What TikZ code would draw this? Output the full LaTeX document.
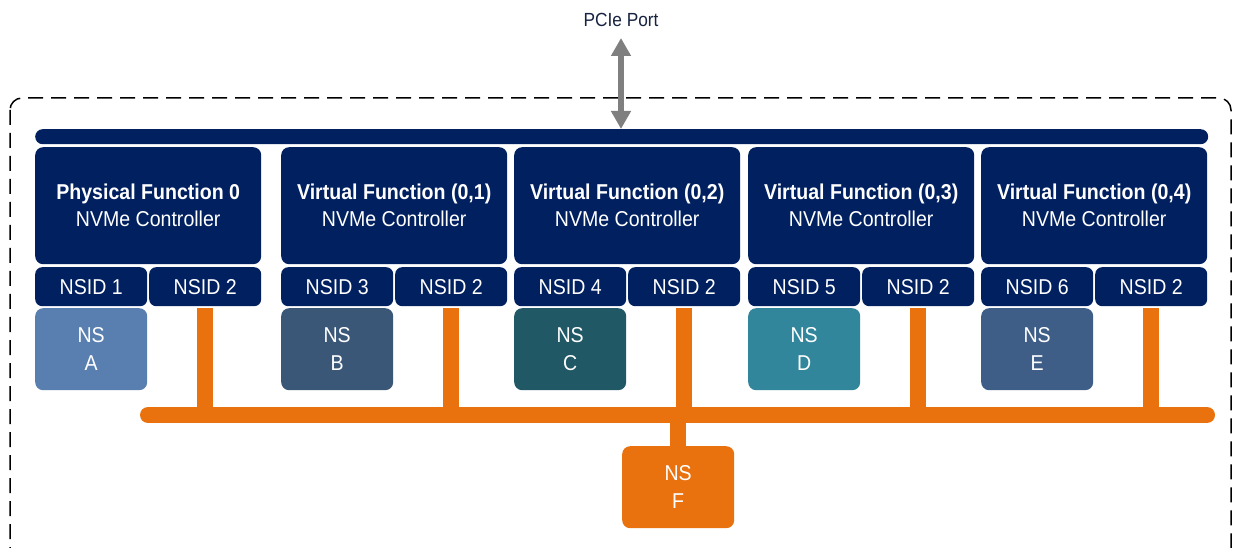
\documentclass[tikz,border=0pt]{standalone}
\usepackage{fontspec}
\setmainfont{Liberation Sans}[FakeStretch=0.91]
\usetikzlibrary{arrows.meta}
\definecolor{navy}{RGB}{0,32,96}
\definecolor{nsorange}{RGB}{233,113,14}
\definecolor{arrowgray}{RGB}{127,127,127}
\definecolor{labelcol}{RGB}{23,35,64}
\definecolor{nsA}{RGB}{88,127,176}
\definecolor{nsB}{RGB}{58,87,120}
\definecolor{nsC}{RGB}{32,88,102}
\definecolor{nsD}{RGB}{49,134,155}
\definecolor{nsE}{RGB}{62,94,136}
\begin{document}
\begin{tikzpicture}[x=1pt,y=-1pt,
  box/.style={fill=navy, rounded corners=8pt, inner sep=0pt, text=white, align=center, anchor=north west},
  ctrl/.style={box, minimum width=226pt, minimum height=117pt, font=\fontsize{21.5}{27}\selectfont},
  nsid/.style={box, minimum width=112pt, minimum height=39pt, rounded corners=7pt, font=\fontsize{21.5}{25}\selectfont},
  nsbox/.style={box, minimum width=112pt, minimum height=82pt, font=\fontsize{21.5}{28}\selectfont},
  orangeline/.style={draw=nsorange, line width=16pt},
  frame/.style={draw=black, dash pattern=on 15pt off 8pt, line width=1.5pt, rounded corners=12pt},
  portarrow/.style={draw=arrowgray, line width=6pt, {Triangle[width=19pt,length=18pt,fill=arrowgray]}-{Triangle[width=19pt,length=18pt,fill=arrowgray]}}
]
\useasboundingbox (0,0) rectangle (1235,548);
\clip (0,0) rectangle (1235,548);

% outer dashed frame
\draw[frame] (10,98) rectangle (1231,575);

% bus
\node[box, minimum width=1173pt, minimum height=15pt, rounded corners=7.5pt] (bus) at (35,129) {};

% PCIe port label and arrow
\node[anchor=south, inner sep=0pt, text depth=11pt, text=labelcol, font=\fontsize{19}{19}\selectfont] (pcie) at (621,38) {PCIe Port};
\draw[portarrow] (pcie.south) -- (bus.north -| pcie.south);

% controllers
\foreach \i/\L/\title/\nsidnum/\col/\letter in {
  0/35/{Physical Function 0}/1/nsA/A,
  1/281/{Virtual Function (0,1)}/3/nsB/B,
  2/514/{Virtual Function (0,2)}/4/nsC/C,
  3/748/{Virtual Function (0,3)}/5/nsD/D,
  4/981/{Virtual Function (0,4)}/6/nsE/E}{
  \node[ctrl] (c\i) at (\L,147) {{\bfseries \title}\\NVMe Controller};
  \node[nsid] (a\i) at (\L,267) {NSID \nsidnum};
  \node[nsid] (b\i) at (\L+114,267) {NSID 2};
  \node[nsbox, fill=\col] (ns\i) at (\L,308) {NS\\\letter};
}

% shared namespace
\coordinate (barL) at (148,415);
\coordinate (barR) at (1207,415);
\node[nsbox, fill=nsorange] (nsF) at (622,446) {NS\\F};

\draw[orangeline, line cap=round] (barL) -- (barR);
\foreach \i in {0,...,4}{
  \draw[orangeline] (b\i.south |- ns\i.north) -- (b\i.south |- barL);
}
\draw[orangeline] (nsF.north |- barL) -- (nsF.north);
\end{tikzpicture}
\end{document}
